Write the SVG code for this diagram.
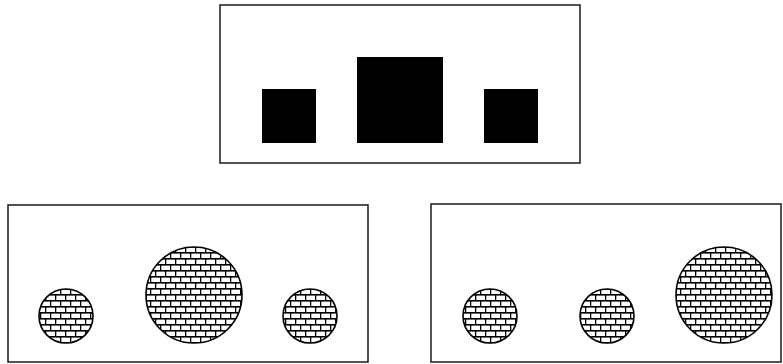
<svg xmlns="http://www.w3.org/2000/svg" width="783" height="364" viewBox="0 0 783 364">
  <style>
    .frame { fill: #ffffff; stroke: #1a1a1a; stroke-width: 1.5; }
    .block { fill: #000000; }
    .brick { fill: url(#bricks); stroke: #000000; stroke-width: 1.6; }
  </style>
  <defs>
    <pattern id="bricks" patternUnits="userSpaceOnUse" width="10" height="12">
      <rect x="0" y="0" width="10" height="12" fill="#000"/>
      <rect x="1.3" y="1.6" width="8.7" height="4.4" fill="#fff"/>
      <rect x="-3.7" y="7.6" width="8.7" height="4.4" fill="#fff"/>
      <rect x="6.3" y="7.6" width="8.7" height="4.4" fill="#fff"/>
    </pattern>
  </defs>
  <rect width="783" height="364" fill="#ffffff"/>

  <g id="top-panel">
    <rect class="frame" x="220" y="5" width="360" height="158"/>
    <rect class="block" x="262" y="89" width="54" height="54"/>
    <rect class="block" x="357" y="57" width="86" height="86"/>
    <rect class="block" x="484" y="89" width="54" height="54"/>
  </g>

  <g id="bottom-left-panel">
    <rect class="frame" x="8" y="205" width="360" height="157"/>
    <circle class="brick" cx="66" cy="316" r="27"/>
    <circle class="brick" cx="194" cy="295" r="48"/>
    <circle class="brick" cx="310" cy="316" r="27"/>
  </g>

  <g id="bottom-right-panel">
    <rect class="frame" x="431" y="204" width="350" height="158"/>
    <circle class="brick" cx="490" cy="316" r="27"/>
    <circle class="brick" cx="607" cy="316" r="27"/>
    <circle class="brick" cx="724" cy="295" r="48"/>
  </g>

  <g id="connectors"></g>
</svg>
